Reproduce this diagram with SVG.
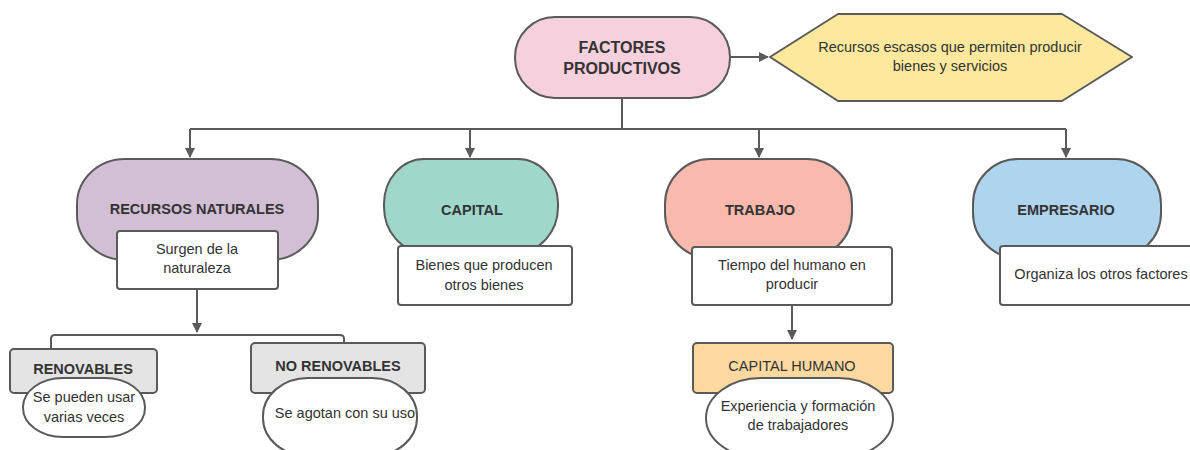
<svg xmlns="http://www.w3.org/2000/svg" width="1190" height="450" viewBox="0 0 1190 450">
<defs>
<marker id="arr" markerWidth="10" markerHeight="10" refX="9" refY="5" orient="auto" markerUnits="userSpaceOnUse">
<path d="M0,0 L10,5 L0,10 z" fill="#5a5a5a"/>
</marker>
<style>
.sh{stroke:#5a5a5a;stroke-width:2}
.t{font-family:"Liberation Sans",Arial,sans-serif;font-size:14.5px;fill:#333;text-anchor:middle;dominant-baseline:central}
.b{font-weight:bold}
.big{font-size:16px}
.c{fill:none;stroke:#5a5a5a;stroke-width:2}
.w{fill:#fff}
</style>
</defs>
<rect width="1190" height="450" fill="#fff"/>
<g id="connectors">
<path class="c" d="M730,57 H768" marker-end="url(#arr)"/>
<path class="c" d="M622,98 V129"/>
<path class="c" d="M190,129 H1066"/>
<path class="c" d="M190,129 V157" marker-end="url(#arr)"/>
<path class="c" d="M470,129 V157" marker-end="url(#arr)"/>
<path class="c" d="M759,129 V157" marker-end="url(#arr)"/>
<path class="c" d="M1066,129 V157" marker-end="url(#arr)"/>
<path class="c" d="M197,289 V332" marker-end="url(#arr)"/>
<path class="c" d="M51,349 V339 Q51,335 55,335 H340 Q344,335 344,339 V343"/>
<path class="c" d="M792,305 V339" marker-end="url(#arr)"/>
</g>
<g id="factores">
<rect class="sh" x="515" y="17" width="215" height="81" rx="40" fill="#f6d0dc"/>
<text class="t b big" x="622" y="47">FACTORES</text>
<text class="t b big" x="622" y="68">PRODUCTIVOS</text>
</g>
<g id="definicion">
<polygon class="sh" points="770,57 838,14 1062,14 1132,57 1062,101 838,101" fill="#fce99e" stroke-linejoin="round"/>
<text class="t" x="950" y="47">Recursos escasos que permiten producir</text>
<text class="t" x="950" y="66">bienes y servicios</text>
</g>
<g id="recursos">
<rect class="sh" x="77" y="159" width="241" height="101" rx="48" ry="45" fill="#d3bfd5"/>
<text class="t b" x="197" y="209">RECURSOS NATURALES</text>
<rect class="sh w" x="117" y="231" width="161" height="58" rx="3"/>
<text class="t" x="197" y="249">Surgen de la</text>
<text class="t" x="197" y="268">naturaleza</text>
</g>
<g id="renovables">
<rect class="sh" x="10" y="349" width="147" height="44" rx="4" fill="#e4e4e4"/>
<text class="t b" x="83" y="369">RENOVABLES</text>
<rect class="sh w" x="23" y="378" width="122" height="59" rx="40" ry="29"/>
<text class="t" x="84" y="397">Se pueden usar</text>
<text class="t" x="84" y="417">varias veces</text>
</g>
<g id="norenovables">
<rect class="sh" x="251" y="343" width="174" height="50" rx="4" fill="#e4e4e4"/>
<text class="t b" x="338" y="366">NO RENOVABLES</text>
<rect class="sh w" x="263" y="378" width="154" height="78" rx="45" ry="38"/>
<text class="t" x="345" y="413">Se agotan con su uso</text>
</g>
<g id="capital">
<rect class="sh" x="384" y="159" width="174" height="93" rx="40" ry="45" fill="#9fd8cb"/>
<text class="t b" x="472" y="210">CAPITAL</text>
<rect class="sh w" x="398" y="246" width="174" height="59" rx="3"/>
<text class="t" x="484" y="265">Bienes que producen</text>
<text class="t" x="484" y="285">otros bienes</text>
</g>
<g id="trabajo">
<rect class="sh" x="665" y="159" width="187" height="99" rx="45" ry="45" fill="#f9b9ad"/>
<text class="t b" x="760" y="210">TRABAJO</text>
<rect class="sh w" x="692" y="247" width="200" height="58" rx="3"/>
<text class="t" x="792" y="265">Tiempo del humano en</text>
<text class="t" x="792" y="284">producir</text>
</g>
<g id="capitalhumano">
<rect class="sh" x="693" y="343" width="200" height="50" rx="4" fill="#fdd9a0"/>
<text class="t" x="792" y="366">CAPITAL HUMANO</text>
<rect class="sh w" x="706" y="378" width="187" height="80" rx="55" ry="40"/>
<text class="t" x="798" y="406">Experiencia y formación</text>
<text class="t" x="798" y="425">de trabajadores</text>
</g>
<g id="empresario">
<rect class="sh" x="973" y="159" width="188" height="99" rx="45" ry="45" fill="#aed4ee"/>
<text class="t b" x="1066" y="210">EMPRESARIO</text>
<rect class="sh w" x="1000" y="246" width="200" height="59" rx="3"/>
<text class="t" x="1101" y="274">Organiza los otros factores</text>
</g>
</svg>
